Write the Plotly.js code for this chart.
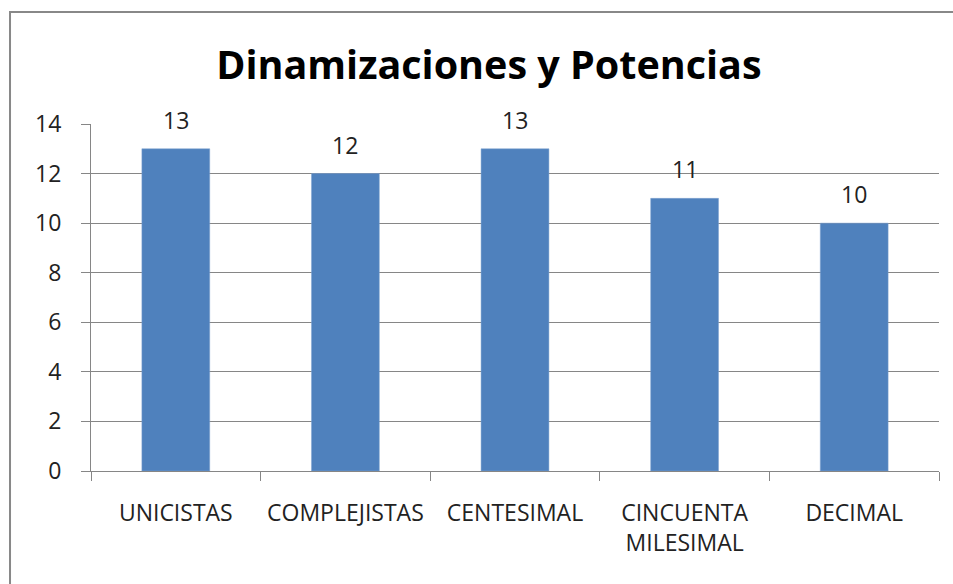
<!DOCTYPE html>
<html>
<head>
<meta charset="utf-8">
<script src="https://cdn.plot.ly/plotly-3.0.1.min.js"></script>
<style>html,body{margin:0;padding:0;background:#fff;}#chart{width:953px;height:584px;}</style>
</head>
<body>
<div id="chart"></div>
<script>
var categories = ["UNICISTAS", "COMPLEJISTAS", "CENTESIMAL", "CINCUENTA<br>MILESIMAL", "DECIMAL"];
var values = [13, 12, 13, 11, 10];
var yTicks = [0, 2, 4, 6, 8, 10, 12, 14];
var chartTitle = "Dinamizaciones y Potencias";

var font = "Open Sans, Noto Sans, sans-serif";
var trace = {
  type: "bar",
  x: categories,
  y: values,
  marker: {color: "#4F81BD", line: {color: "#7FA3D0", width: 0.5}},
  hoverinfo: "none"
};
var annotations = categories.map(function(c, i){
  return {x: c, y: values[i], text: String(values[i]), showarrow: false,
    yanchor: "bottom", yshift: 11, font: {family: font, size: 23, color: "#222"}};
});
var layout = {
  width: 953, height: 584,
  margin: {l: 91, r: 14, t: 124, b: 113},
  paper_bgcolor: "#fff", plot_bgcolor: "#fff",
  showlegend: false,
  bargap: 0.6,
  title: {text: "<b>" + chartTitle + "</b>", x: 0.513, xanchor: "center", y: 0.888, yanchor: "middle",
    font: {family: font, size: 39.5, color: "#000"}},
  xaxis: {type: "category", showgrid: false, showline: true, linecolor: "#868686", linewidth: 1,
    ticks: "outside", tickson: "boundaries", ticklen: 9, tickcolor: "#868686", tickangle: 0,
    ticklabelstandoff: 21,
    tickfont: {family: font, size: 23, color: "#222"}},
  yaxis: {range: [0, 14], tickvals: yTicks, showgrid: true, gridcolor: "#868686", gridwidth: 1,
    showline: true, linecolor: "#868686", ticks: "outside", ticklen: 9, tickcolor: "#868686",
    zeroline: false, tickfont: {family: font, size: 23, color: "#222"}, ticklabelstandoff: 15},
  annotations: annotations,
  shapes: [{type: "rect", xref: "paper", yref: "paper", x0: -0.0955, x1: 1.2, y0: -0.6, y1: 1.3228,
    line: {color: "#888", width: 2}, fillcolor: "rgba(0,0,0,0)", layer: "below"}]
};
Plotly.newPlot("chart", [trace], layout, {displayModeBar: false, staticPlot: true});
</script>
</body>
</html>
